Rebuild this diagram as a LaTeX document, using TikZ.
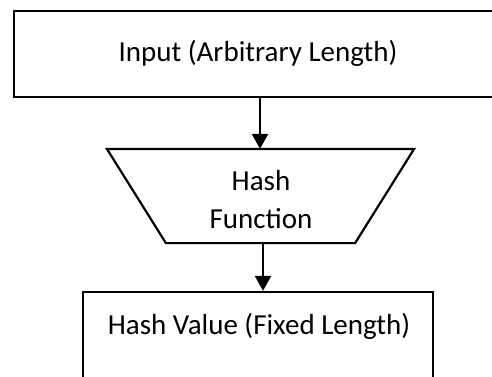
\documentclass[tikz,border=0pt]{standalone}
\usepackage{fontspec}
\setmainfont{Carlito}
\usetikzlibrary{arrows.meta}
\begin{document}
\begin{tikzpicture}[x=1pt,y=-1pt, line width=2.2pt,
  box/.style={draw, rectangle, inner sep=0pt},
  lbl/.style={anchor=base, inner sep=0pt, font=\fontsize{29}{35}\selectfont},
  arr/.style={-{Triangle[length=15pt,width=16pt]}}]
\useasboundingbox (0,0) rectangle (492,376);
\clip (0,0) rectangle (492,376);
\node[box, minimum width=488pt, minimum height=86pt] (inbox) at (258,54) {};
\node[lbl] (intext) at (258,61) {Input (Arbitrary Length)};
\node[inner sep=0pt, minimum width=305pt, minimum height=92pt] (func) at (260.5,196) {};
\draw[line join=miter] (func.north west) -- (func.north east) -- ([xshift=-59pt]func.south east) -- ([xshift=59pt]func.south west) -- cycle;
\node[lbl] (t1) at (261,190) {Hash};
\node[lbl] (t2) at (261,228) {Function};
\node[box, minimum width=350pt, minimum height=86pt] (outbox) at (258,335) {};
\node[lbl] (outtext) at (259,334) {Hash Value (Fixed Length)};
\coordinate (a1) at (260,0);
\coordinate (a2) at (263,0);
\draw[arr] (inbox.south -| a1) -- (func.north -| a1);
\draw[arr] (func.south -| a2) -- (outbox.north -| a2);
\end{tikzpicture}
\end{document}
